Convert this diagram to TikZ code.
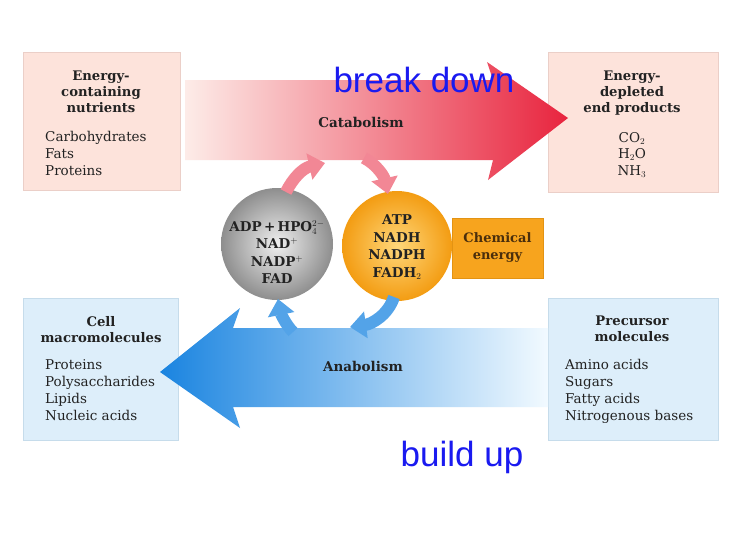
\documentclass[tikz,border=0pt]{standalone}
\usepackage{fontspec}
\setmainfont{DejaVu Serif}
\newfontfamily\labelsans{Liberation Sans}
\usetikzlibrary{arrows.meta,shadings}
\definecolor{pinkfill}{HTML}{FDE3DB}
\definecolor{pinkline}{HTML}{EBCFC8}
\definecolor{bluefill}{HTML}{DDEEFA}
\definecolor{blueline}{HTML}{C6DCEB}
\definecolor{catred}{HTML}{E8243E}
\definecolor{catlight}{HTML}{FDECE8}
\definecolor{anablue}{HTML}{1A84E0}
\definecolor{analight}{HTML}{F2FAFF}
\definecolor{txt}{HTML}{222222}
\definecolor{energybox}{HTML}{F7A41E}
\definecolor{energyline}{HTML}{E39313}
\definecolor{energytxt}{HTML}{4A2E0C}
\definecolor{labelblue}{HTML}{1A1AF0}
\definecolor{grayin}{HTML}{EFEFEF}
\definecolor{grayout}{HTML}{8E8E8E}
\definecolor{orin}{HTML}{FFD77A}
\definecolor{orout}{HTML}{F39C12}
\begin{document}
\begin{tikzpicture}[x=1pt,y=-1pt,
  pinkbox/.style={draw=pinkline,fill=pinkfill,line width=0.8pt,inner sep=0pt},
  bluebox/.style={draw=blueline,fill=bluefill,line width=0.8pt,inner sep=0pt},
  boxtitle/.style={font=\fontsize{13.2}{16}\selectfont\bfseries,text=txt,align=center,inner sep=0pt,anchor=north},
  boxlist/.style={font=\fontsize{13.5}{17}\selectfont,text=txt,align=left,inner sep=0pt,anchor=north west},
  boxlistc/.style={font=\fontsize{13.5}{16.5}\selectfont,text=txt,align=center,inner sep=0pt,anchor=north},
  bigarrowlabel/.style={font=\fontsize{13.5}{15}\selectfont\bfseries,text=txt,inner sep=0pt},
  circtext/.style={font=\fontsize{13.5}{17.5}\selectfont\bfseries,text=txt,align=center,inner sep=0pt},
  sidelabel/.style={font=\labelsans\fontsize{35}{40}\selectfont,text=labelblue,inner sep=0pt},
  redcyc/.style={line width=12pt,draw=catred!55,-{Triangle[width=26pt,length=16pt]}},
  bluecyc/.style={line width=12pt,draw=anablue!75,-{Triangle[width=26pt,length=16pt]}}
]
\useasboundingbox (0,0) rectangle (745,536);
\fill[white] (0,0) rectangle (745,536);

% boxes
\node[pinkbox,minimum width=157pt,minimum height=138pt] (nut) at (101.5,121) {};
\node[pinkbox,minimum width=170pt,minimum height=140pt] (endp) at (633,122) {};
\node[bluebox,minimum width=155pt,minimum height=142pt] (macro) at (100.5,369) {};
\node[bluebox,minimum width=170pt,minimum height=142pt] (prec) at (633,369) {};

% catabolism arrow
\shade[left color=catlight,right color=catred]
  (185,80) -- (493,80) -- (487,62) -- (568,118) -- (488,180) -- (493,160) -- (185,160) -- cycle;
\node[bigarrowlabel] (catab) at (361,122) {Catabolism};

% anabolism arrow
\shade[left color=anablue,right color=analight]
  (548,328) -- (233,328) -- (240,308) -- (160,372) -- (240,428) -- (233,407) -- (548,407) -- cycle;
\node[bigarrowlabel] (anab) at (363,366) {Anabolism};

% circles
\shade[inner color=grayin,outer color=grayout] (277,244) circle (56pt);
\node[circle,minimum size=112pt,inner sep=0pt] (adp) at (277,244) {};
\shade[inner color=orin,outer color=orout] (397,246) circle (55pt);
\node[circle,minimum size=110pt,inner sep=0pt] (atp) at (397,246) {};

% cycle arrows
\coordinate (r1s) at (286,192);
\coordinate (r1e) at (325,163);
\coordinate (r2s) at (364,158);
\coordinate (r2e) at (388,194);
\coordinate (b1s) at (394,297);
\coordinate (b1e) at (350,327);
\coordinate (b2s) at (293,332);
\coordinate (b2e) at (278,299);
\draw[redcyc] (r1s) .. controls (293,178) and (303,168) .. (r1e);
\draw[redcyc] (r2s) .. controls (376,164) and (384,176) .. (r2e);
\draw[bluecyc] (b1s) .. controls (388,315) and (372,324) .. (b1e);
\draw[bluecyc] (b2s) .. controls (286,325) and (281,314) .. (b2e);

\node[circtext] (adptext) at (277,252) {ADP\,+\,HPO$_4^{2-}$\\NAD$^+$\\NADP$^+$\\FAD};
\node[circtext] (atptext) at (397,247) {ATP\\NADH\\NADPH\\FADH$_2$};

% chemical energy
\node[draw=energyline,fill=energybox,minimum width=91pt,minimum height=60pt,inner sep=0pt,
      font=\fontsize{13}{17}\selectfont\bfseries,text=energytxt,align=center] (chem) at (497.5,248) {Chemical\\energy};

% box texts
\node[boxtitle] (nutt) at (101,71) {Energy-\\containing\\nutrients};
\node[boxlist] (nutl) at (45,131) {Carbohydrates\\Fats\\Proteins};
\node[boxtitle] (endt) at (632,71) {Energy-\\depleted\\end products};
\node[boxlistc] (endl) at (632,132) {CO$_2$\\H$_2$O\\NH$_3$};
\node[boxtitle] (macrot) at (101,316) {Cell\\macromolecules};
\node[boxlist] (macrol) at (45,359) {Proteins\\Polysaccharides\\Lipids\\Nucleic acids};
\node[boxtitle] (prect) at (632,316) {Precursor\\molecules};
\node[boxlist] (precl) at (565,359) {Amino acids\\Sugars\\Fatty acids\\Nitrogenous bases};

% blue labels
\node[sidelabel] (bd) at (424,80) {break down};
\node[sidelabel] (bu) at (462,457) {build up};
\end{tikzpicture}
\end{document}
